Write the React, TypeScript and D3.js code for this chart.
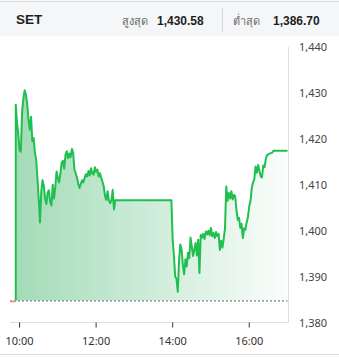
import React from "react";
import * as d3 from "d3";

const indexName = "SET";
const highLabel = "สูงสุด";
const lowLabel = "ต่ำสุด";
const highValue = 1430.58;
const lowValue = 1386.7;
const prevClose = 1384.8;

const yTicks = [1380, 1390, 1400, 1410, 1420, 1430, 1440];
const xTicks = ["10:00", "12:00", "14:00", "16:00"];

const axisStart = "09:45";
const morningStart = "09:54";
const lunchEnd = "13:58";
const afternoonStart = "14:00";
const closeTime = "17:00";
const stepMinutes = 2;

const morningValues = [
  1427.4, 1423.5, 1421.0, 1417.5, 1417.2, 1426.0, 1428.8, 1430.6, 1429.6, 1427.5,
  1424.2, 1422.0, 1424.8, 1419.5, 1420.2, 1417.0, 1415.5, 1411.5, 1407.0, 1401.8,
  1408.5, 1411.0, 1409.8, 1407.0, 1405.8, 1408.3, 1408.8, 1406.2, 1405.5, 1410.0,
  1407.0, 1409.5, 1412.9, 1411.5, 1410.5, 1412.5, 1414.8, 1415.2, 1413.5, 1416.5,
  1417.3, 1415.8, 1416.8, 1416.0, 1417.8, 1417.0, 1413.3, 1412.5, 1411.5, 1410.2,
  1409.3, 1410.2, 1411.0, 1410.5, 1411.5, 1412.3, 1411.8, 1413.0, 1412.0, 1413.6,
  1412.5, 1412.2, 1413.8, 1412.8, 1413.3, 1411.8, 1412.5, 1411.5, 1410.6, 1409.6,
  1407.5, 1406.7, 1408.6, 1406.5, 1406.0, 1406.6, 1408.9, 1404.6, 1406.6,
];

const afternoonValues = [
  1398.0, 1394.5, 1390.0, 1389.5, 1386.7, 1393.5, 1397.0, 1395.8, 1392.5, 1390.5,
  1393.8, 1392.2, 1395.2, 1394.0, 1398.5, 1396.5, 1394.5, 1395.9, 1397.3, 1394.6,
  1398.0, 1390.8, 1399.1, 1398.5, 1399.3, 1398.2, 1399.8, 1399.2, 1400.0, 1399.0,
  1400.6, 1398.8, 1399.5, 1398.4, 1399.7, 1398.8, 1399.3, 1395.8, 1397.8, 1396.3,
  1398.2, 1400.5, 1409.6, 1406.5, 1408.2, 1407.0, 1408.6, 1406.8, 1407.8, 1407.5,
  1404.5, 1402.4, 1402.8, 1400.6, 1401.5, 1398.4, 1400.5, 1400.2, 1401.8, 1403.0,
  1405.3, 1406.5, 1409.3, 1410.5, 1411.2, 1414.0, 1412.6, 1414.3, 1413.0, 1411.8,
  1411.6, 1414.2, 1413.8, 1415.6, 1416.5, 1416.6, 1416.8, 1416.9, 1417.0, 1417.4,
];

const toMin = (s: string) => {
  const [h, m] = s.split(":").map(Number);
  return h * 60 + m;
};

type P = { t: number; v: number };

function buildSeries(): P[] {
  const pts: P[] = [];
  const m0 = toMin(morningStart);
  pts.push({ t: m0, v: prevClose });
  morningValues.forEach((v, i) => pts.push({ t: m0 + i * stepMinutes, v }));
  pts.push({ t: toMin(lunchEnd), v: morningValues[morningValues.length - 1] });
  const a0 = toMin(afternoonStart);
  afternoonValues.forEach((v, i) => pts.push({ t: a0 + i * stepMinutes, v }));
  pts.push({ t: toMin(closeTime), v: afternoonValues[afternoonValues.length - 1] });
  return pts;
}

const W = 339;
const H = 357;

export default function App() {
  const data = buildSeries();
  const x = d3.scaleLinear().domain([toMin(axisStart), toMin(closeTime)]).range([10, 287.5]);
  const y = d3.scaleLinear().domain([1380, 1440]).range([322.5, 47]);

  const line = d3.line<P>().x((d) => x(d.t)).y((d) => y(d.v));
  const area = d3
    .area<P>()
    .x((d) => x(d.t))
    .y0(y(prevClose))
    .y1((d) => y(d.v));

  const fmt = d3.format(",");
  const fmt2 = d3.format(",.2f");
  const headerFont = "Liberation Sans, Arial, Helvetica, sans-serif";
  const axisFont = "Noto Sans, Open Sans, sans-serif";
  const plotRight = x(toMin(closeTime));
  const plotLeft = x(toMin(axisStart));
  const firstT = x(toMin(morningStart));

  return (
    <svg
      width={W}
      height={H}
      style={{ position: "absolute", left: 0, top: 0, background: "#fff" }}
    >
      <defs>
        <linearGradient id="fillGrad" x1={firstT} x2={plotRight} y1={0} y2={0} gradientUnits="userSpaceOnUse">
          <stop offset="0%" stopColor="#a3dbb7" />
          <stop offset="55%" stopColor="#d3eedd" />
          <stop offset="100%" stopColor="#fbfdfc" />
        </linearGradient>
      </defs>

      {/* header */}
      <rect x={0} y={0} width={W} height={36} fill="#f4f6f7" />
      <line x1={0} x2={W} y1={1.5} y2={1.5} stroke="#dcdcdc" />
      <line x1={0} x2={W} y1={354.5} y2={354.5} stroke="#dcdcdc" />
      <text x={16} y={24} fontFamily={headerFont} fontWeight="bold" fontSize={13.5} fill="#1f1f1f">
        {indexName}
      </text>
      <text x={122} y={24.5} fontFamily={headerFont} fontSize={11} fill="#6b6b6b">
        {highLabel}
      </text>
      <text x={157} y={24.5} fontFamily={headerFont} fontWeight="bold" fontSize={12} fill="#1f1f1f">
        {fmt2(highValue)}
      </text>
      <line x1={222.5} x2={222.5} y1={8} y2={32} stroke="#d8d8d8" />
      <text x={233} y={24.5} fontFamily={headerFont} fontSize={11} fill="#6b6b6b">
        {lowLabel}
      </text>
      <text x={273} y={24.5} fontFamily={headerFont} fontWeight="bold" fontSize={12} fill="#1f1f1f">
        {fmt2(lowValue)}
      </text>

      {/* frame */}
      <line x1={288.5} x2={288.5} y1={47} y2={322.5} stroke="#dedede" />
      <line x1={plotLeft} x2={288.5} y1={322.5} y2={322.5} stroke="#dedede" />

      {/* area + line */}
      <path d={area(data) || ""} fill="url(#fillGrad)" />
      <line
        x1={plotLeft}
        x2={plotRight}
        y1={y(prevClose) + 0.5}
        y2={y(prevClose) + 0.5}
        stroke="#556575"
        strokeWidth={1}
        strokeDasharray="2,2"
      />
      <line
        x1={plotLeft}
        x2={firstT}
        y1={y(prevClose) + 1}
        y2={y(prevClose) + 1}
        stroke="#ee8080"
        strokeWidth={1.5}
      />
      <path d={line(data) || ""} fill="none" stroke="#20bf4f" strokeWidth={2} strokeLinejoin="round" />

      {/* y axis labels */}
      {yTicks.map((t) => (
        <text key={t} x={299} y={y(t) + 4} fontFamily={axisFont} fontSize={11} fill="#444">
          {fmt(t)}
        </text>
      ))}

      {/* x axis */}
      {xTicks.map((s) => (
        <g key={s} transform={`translate(${x(toMin(s))},0)`}>
          <line x1={0} x2={0} y1={322.5} y2={327.5} stroke="#333" />
          <text y={345} textAnchor="middle" fontFamily={axisFont} fontSize={11} fill="#333">
            {s}
          </text>
        </g>
      ))}
    </svg>
  );
}
